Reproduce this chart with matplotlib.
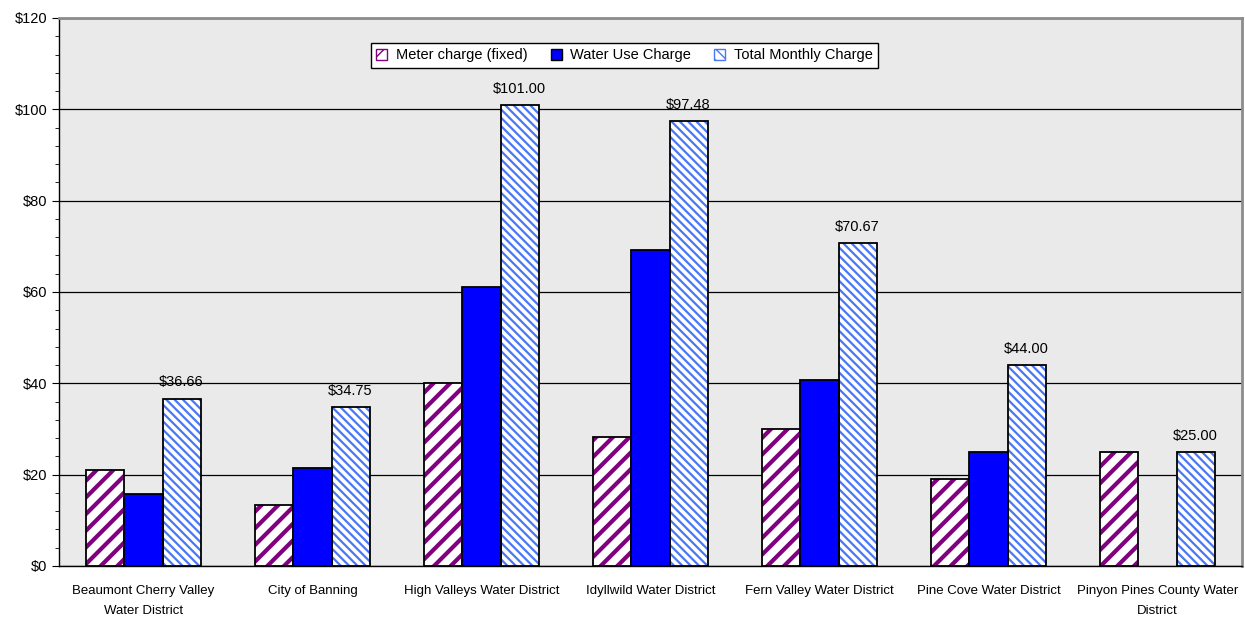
import numpy as np
import matplotlib
matplotlib.use("Agg")
import matplotlib.pyplot as plt
from matplotlib.patches import Patch
from matplotlib.ticker import MultipleLocator, FuncFormatter

plt.rcParams['font.family'] = ['Liberation Sans', 'DejaVu Sans']

districts = [
    "Beaumont Cherry Valley\nWater District",
    "City of Banning",
    "High Valleys Water District",
    "Idyllwild Water District",
    "Fern Valley Water District",
    "Pine Cove Water District",
    "Pinyon Pines County Water\nDistrict",
]
meter_charge = [21.00, 13.25, 40.00, 28.28, 30.00, 19.00, 25.00]
water_use = [15.66, 21.50, 61.00, 69.20, 40.67, 25.00, 0.0]
total_monthly = [36.66, 34.75, 101.00, 97.48, 70.67, 44.00, 25.00]
total_labels = ["$36.66", "$34.75", "$101.00", "$97.48", "$70.67", "$44.00", "$25.00"]

fig = plt.figure(figsize=(12.45, 6.18), dpi=100)
ax = fig.add_axes([59/1245, 1 - 566/618, (1242-59)/1245, (566-18)/618])
ax.set_facecolor("#EAEAEA")

x = np.arange(len(districts))
w = 0.225
purple = "#800080"
hatch_blue = "#4A78F5"


def hatched_bars(xpos, vals, hatch, hcolor, hlw):
    bars = ax.bar(xpos, vals, w, color="white", edgecolor=hcolor, hatch=hatch,
                  linewidth=0, zorder=3)
    for b in bars:
        if hasattr(b, "set_hatch_linewidth"):
            b.set_hatch_linewidth(hlw)
    ax.bar(xpos, vals, w, fill=False, edgecolor="black", linewidth=1.3, zorder=4)


with plt.rc_context({'hatch.linewidth': 3.0}):
    hatched_bars(x - w, meter_charge, "//", purple, 3.0)

# a zero charge gets no outline
water_lw = [1.3 if v > 0 else 0 for v in water_use]
ax.bar(x, water_use, w, color="#0000FF", edgecolor="black", linewidth=water_lw, zorder=4)

with plt.rc_context({'hatch.linewidth': 1.6}):
    hatched_bars(x + w, total_monthly, "\\\\\\\\", hatch_blue, 1.6)

for xi, v, lab in zip(x + w, total_monthly, total_labels):
    ax.text(xi, v + 2.0, lab, ha="center", va="bottom", fontsize=10.5, zorder=5)

ax.set_xlim(-0.5, len(districts) - 0.5)
ax.set_ylim(0, 120)
ax.yaxis.set_major_locator(MultipleLocator(20))
ax.yaxis.set_minor_locator(MultipleLocator(4))
ax.yaxis.set_major_formatter(FuncFormatter(lambda v, p: f"${v:.0f}"))
ax.grid(axis="y", which="major", color="black", linewidth=0.9, zorder=1)
ax.set_axisbelow(True)
ax.tick_params(axis="y", which="major", length=5, labelsize=10.5, direction="out")
ax.tick_params(axis="y", which="minor", length=3, direction="out")
ax.set_xticks(x)
ax.set_xticklabels(districts, fontsize=9.5, linespacing=1.8)
ax.tick_params(axis="x", length=0, pad=14)

for s in ("left", "bottom"):
    ax.spines[s].set_color("black")
    ax.spines[s].set_linewidth(1.0)
for s in ("top", "right"):
    ax.spines[s].set_color("#8C8C8C")
    ax.spines[s].set_linewidth(2.0)

handles = [
    Patch(facecolor="white", edgecolor=purple, hatch="//", label="Meter charge (fixed)"),
    Patch(facecolor="#0000FF", edgecolor="black", label="Water Use Charge"),
    Patch(facecolor="white", edgecolor=hatch_blue, hatch="\\\\\\", label="Total Monthly Charge"),
]
leg = ax.legend(handles=handles, loc="center", bbox_to_anchor=(0.478, 0.9316), ncol=3,
                fontsize=10.5, frameon=True, fancybox=False, edgecolor="black",
                framealpha=1, handlelength=0.75, handleheight=0.75, handletextpad=0.6,
                columnspacing=1.6, borderpad=0.35, borderaxespad=0)
leg.get_frame().set_linewidth(1.0)
leg.set_zorder(6)

fig.savefig("out.png", dpi=100, facecolor="white")
